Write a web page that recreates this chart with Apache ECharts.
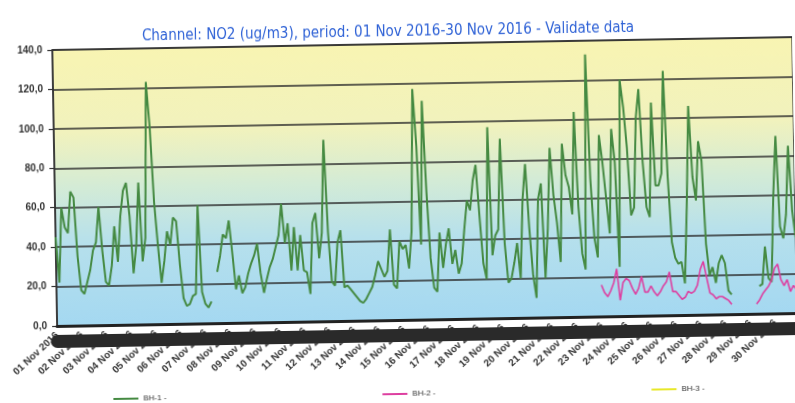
<!DOCTYPE html>
<html>
<head>
<meta charset="utf-8">
<script src="https://cdn.jsdelivr.net/npm/echarts@6/dist/echarts.min.js"></script>
<style>
  html, body { margin: 0; padding: 0; background: #ffffff; overflow: hidden; }
  #main { width: 795px; height: 403px; transform: rotate(-1deg); transform-origin: 50% 50%; }
</style>
</head>
<body>
<div id="main"></div>
<script>
// ---- data (3-hour values) ----
const days = ['01 Nov 2016','02 Nov 2016','03 Nov 2016','04 Nov 2016','05 Nov 2016','06 Nov 2016',
  '07 Nov 2016','08 Nov 2016','09 Nov 2016','10 Nov 2016','11 Nov 2016','12 Nov 2016','13 Nov 2016',
  '14 Nov 2016','15 Nov 2016','16 Nov 2016','17 Nov 2016','18 Nov 2016','19 Nov 2016','20 Nov 2016',
  '21 Nov 2016','22 Nov 2016','23 Nov 2016','24 Nov 2016','25 Nov 2016','26 Nov 2016','27 Nov 2016',
  '28 Nov 2016','29 Nov 2016','30 Nov 2016'];
const hours = ['00:00','03:00','06:00','09:00','12:00','15:00','18:00','21:00'];

const bh1 = [
  45,22,60,50,47,68,65,35,
  18,16,22,28,38,42,60,38,
  22,20,30,50,32,55,68,72,
  55,26,40,72,32,44,123,100,
  62,40,21,32,47,40,54,52,
  30,13,9,10,14,15,60,16,
  10,8,11,null,26,34,45,43,
  52,35,17,24,15,18,25,30,
  34,40,25,15,22,28,32,38,
  44,60,40,50,26,48,26,44,
  26,25,14,50,55,32,45,92,
  45,20,18,40,46,17,18,16,
  14,12,10,9,11,14,17,23,
  30,26,22,25,46,18,16,40,
  36,38,26,45,117,88,38,111,
  65,31,16,14,44,26,38,46,
  28,35,23,28,45,60,55,70,
  78,52,28,20,97,32,42,45,
  91,38,18,20,28,38,20,60,
  78,46,22,10,60,68,20,45,
  86,62,48,28,88,72,66,52,
  104,56,32,24,133,70,40,30,
  92,78,60,42,95,78,25,120,
  106,85,51,55,100,115,78,55,
  50,108,66,66,72,124,70,37,
  29,26,27,16,55,106,70,58,
  88,78,36,20,24,16,26,30,
  26,12,10,null,null,null,null,null,
  null,null,null,14,15,34,18,16,
  60,90,44,38,50,85,52,38
];

const bh2 = [
  null,null,null,null,null,null,null,null,
  null,null,null,null,null,null,null,null,
  null,null,null,null,null,null,null,null,
  null,null,null,null,null,null,null,null,
  null,null,null,null,null,null,null,null,
  null,null,null,null,null,null,null,null,
  null,null,null,null,null,null,null,null,
  null,null,null,null,null,null,null,null,
  null,null,null,null,null,null,null,null,
  null,null,null,null,null,null,null,null,
  null,null,null,null,null,null,null,null,
  null,null,null,null,null,null,null,null,
  null,null,null,null,null,null,null,null,
  null,null,null,null,null,null,null,null,
  null,null,null,null,null,null,null,null,
  null,null,null,null,null,null,null,null,
  null,null,null,null,null,null,null,null,
  null,null,null,null,null,null,null,null,
  null,null,null,null,null,null,null,null,
  null,null,null,null,null,null,null,null,
  null,null,null,null,null,null,null,null,
  null,null,null,null,null,null,null,null,
  16,12,10,13,17,24,8,17,
  19,18,14,11,14,20,12,12,
  15,12,10,12,15,17,22,12,
  12,10,8,9,12,11,12,15,
  23,27,19,11,10,8,9,9,
  8,7,5,null,null,null,null,null,
  null,null,5,7,10,12,14,17,
  23,25,17,14,17,11,14,12
];

const bh3 = [];

const yTicks = [0, 20, 40, 60, 80, 100, 120, 140];
const seriesNames = ['BH-1', 'BH-2', 'BH-3'];
const titleText = 'Channel: NO2 (ug/m3), period: 01 Nov 2016-30 Nov 2016 - Validate data';

// ---- build ----
const categories = [];
days.forEach(d => hours.forEach(h => categories.push(d + ' ' + h)));

const chart = echarts.init(document.getElementById('main'), null, { renderer: 'canvas' });

const option = {
  animation: false,
  backgroundColor: '#ffffff',
  title: {
    text: titleText,
    left: 386,
    top: 20,
    textAlign: 'center',
    textStyle: {
      color: '#2f62d6',
      fontFamily: '"Liberation Sans Narrow", "DejaVu Sans Condensed", sans-serif',
      fontSize: 15,
      fontWeight: 'normal'
    }
  },
  legend: {
    data: seriesNames,
    left: 105,
    top: 385,
    itemGap: 216,
    itemWidth: 25,
    itemHeight: 2,
    icon: 'rect',
    formatter: n => n + ' -',
    textStyle: { fontSize: 8, color: '#333', fontFamily: 'Liberation Sans, sans-serif' }
  },
  grid: {
    left: 55,
    right: 0,
    top: 44,
    bottom: 83,
    show: true,
    borderColor: '#2b2b2b',
    borderWidth: 1.5,
    backgroundColor: {
      type: 'linear', x: 0, y: 0, x2: 0, y2: 1,
      colorStops: [
        { offset: 0, color: '#f8f4b2' },
        { offset: 0.3, color: '#f1f2bd' },
        { offset: 0.5, color: '#d3ebd6' },
        { offset: 0.7, color: '#b6e0ec' },
        { offset: 1, color: '#a4d8f1' }
      ]
    }
  },
  xAxis: [
    {
      type: 'category',
      data: categories,
      boundaryGap: false,
      z: 1,
      axisLine: { lineStyle: { color: '#222', width: 3 } },
      axisTick: { show: false },
      axisLabel: {
        interval: 7,
        rotate: 42,
        margin: 8,
        formatter: v => v.slice(0, 11),
        fontSize: 10,
        fontWeight: 'bold',
        color: '#333',
        fontFamily: 'Liberation Sans, Arial, sans-serif'
      },
      splitLine: { show: false }
    },
    {
      type: 'category',
      data: categories,
      boundaryGap: false,
      position: 'bottom',
      offset: 15,
      z: 6,
      axisLine: { lineStyle: { color: '#2a2a2a', width: 13 } },
      axisTick: { show: false },
      axisLabel: { show: false },
      splitLine: { show: false }
    }
  ],
  yAxis: {
    type: 'value',
    min: yTicks[0],
    max: yTicks[yTicks.length - 1],
    interval: 20,
    axisLine: { show: true, lineStyle: { color: '#333', width: 1.5 } },
    axisTick: { show: true, length: 5, lineStyle: { color: '#333', width: 1.2 } },
    axisLabel: {
      formatter: v => v.toFixed(1).replace('.', ','),
      fontSize: 10,
      fontWeight: 'bold',
      color: '#333',
      margin: 10,
      fontFamily: 'Liberation Sans, Arial, sans-serif'
    },
    splitLine: { lineStyle: { color: '#2e2e2e', width: 1.5 } }
  },
  series: [
    {
      name: seriesNames[0], type: 'line', data: bh1, xAxisIndex: 0,
      showSymbol: false, connectNulls: false, z: 3,
      lineStyle: { color: '#458a42', width: 2 }, itemStyle: { color: '#458a42' }
    },
    {
      name: seriesNames[1], type: 'line', data: bh2, xAxisIndex: 0,
      showSymbol: false, connectNulls: false, z: 4,
      lineStyle: { color: '#dd3fa0', width: 1.6 }, itemStyle: { color: '#dd3fa0' }
    },
    {
      name: seriesNames[2], type: 'line', data: bh3, xAxisIndex: 0,
      showSymbol: false, z: 2,
      lineStyle: { color: '#e8e82a', width: 1.6 }, itemStyle: { color: '#e8e82a' }
    }
  ]
};

chart.setOption(option);
</script>
</body>
</html>
